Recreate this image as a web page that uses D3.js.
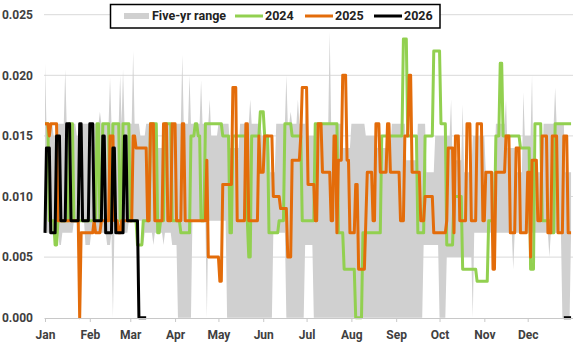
<!DOCTYPE html>
<html><head><meta charset="utf-8">
<script src="https://cdn.jsdelivr.net/npm/d3@7"></script>
<style>body{margin:0;background:#fff}svg{display:block;font-family:Roboto,Arial,sans-serif;font-weight:bold}</style>
</head><body><svg id="c" width="584" height="353"></svg>
<script>
// values in thousandths; [startDay, value] step breakpoints (day 0 = Jan 1)
const months = ["Jan","Feb","Mar","Apr","May","Jun","Jul","Aug","Sep","Oct","Nov","Dec"];
const monthStartDays = [0,31,59,90,120,151,181,212,243,273,304,334];
const yTicks = [0,0.005,0.010,0.015,0.020,0.025];
const legendLabels = ["Five-yr range","2024","2025","2026"];

const range5Max = [[0,21],[1,16],[6,15],[9,16],[14,20.5],[15,16],[22,15],[26,16],[38,17],[39,16],[45,19.8],[46,16],[52,20],[53,16],[54,20.5],[55,16],[61,22],[62,16],[66,15],[70,16],[78,14],[82,16],[95,21.7],[96,16],[100,20],[101,16],[108,19.6],[109,16],[114,18],[115,15],[120,16],[128,14],[135,16],[142,18],[143,16],[150,15],[156,12],[160,16],[167,20],[168,16],[170,17],[171,16],[175,18],[176,16],[181,18],[182,15],[188,16],[197,23.6],[198,16],[206,14],[212,16],[222,15],[230,14],[240,16],[250,13],[258,16],[264,12],[270,15],[281,18],[282,13],[289,17.6],[290,12],[296,15],[305,12],[312,16],[319,18],[320,14],[326,12],[331,18.6],[332,15],[337,20],[338,12],[345,16],[353,19],[354,16],[360,12]];
const range5Min = [[0,7],[10,6],[12,7],[20,8],[28,6],[32,7],[43,6],[46,7],[47,0],[48,7],[58,8],[68,6],[69,7],[75,6],[76,7],[82,6],[83,7],[88,6],[92,0],[102,8],[112,0],[113,8],[126,0],[158,7],[167,0],[180,6],[186,0],[262,6],[273,0],[278,5],[296,0],[297,7],[324,4],[325,7],[349,5],[350,7],[358,0],[364,7]];
const y2024 = [[0,16],[3,8],[7,6],[9,8],[17,16],[20,8],[36,16],[38,8],[40,16],[45,8],[47,16],[52,8],[54,16],[59,8],[64,6],[68,8],[73,16],[78,7],[80,8],[83,16],[88,8],[94,7],[101,15],[104,16],[106,15],[108,8],[111,16],[123,15],[128,7],[130,15],[140,8],[141,5],[143,15],[149,17],[152,15],[155,7],[162,8],[166,16],[171,15],[178,8],[187,16],[203,7],[207,4],[215,0],[220,7],[233,15],[248,23],[251,15],[258,7],[263,15],[269,22],[274,16],[278,6],[283,10],[289,4],[299,3],[307,8],[312,15],[315,21],[317,15],[329,14],[336,4],[339,16],[344,8],[350,7],[353,16]];
const y2025 = [[0,16],[3,15],[4,16],[9,8],[24,0],[25,7],[34,8],[35,7],[39,8],[45,15],[48,8],[51,7],[53,8],[61,15],[63,14],[71,8],[73,16],[76,8],[82,16],[85,8],[88,16],[91,8],[95,16],[97,8],[112,13],[113,5],[121,3],[123,11],[130,19],[133,8],[139,16],[141,8],[148,15],[149,12],[152,15],[158,10],[163,9],[168,5],[171,13],[177,15],[178,19],[182,11],[187,8],[189,16],[192,12],[198,8],[200,15],[202,7],[203,13],[206,20],[209,13],[211,7],[215,11],[217,4],[222,8],[223,12],[227,8],[229,16],[232,12],[237,16],[239,12],[246,8],[249,15],[252,20],[254,12],[260,8],[263,10],[269,7],[278,8],[279,14],[283,7],[284,15],[287,8],[292,16],[295,8],[299,16],[303,8],[305,12],[310,4],[312,12],[319,15],[322,7],[326,14],[329,7],[334,12],[336,5],[337,13],[341,8],[344,15],[348,7],[351,15],[355,7],[359,15],[362,7]];
const y2026 = [[0,7],[1,14],[4,7],[8,15],[11,8],[15,16],[18,8],[24,16],[26,8],[31,16],[34,8],[40,15],[42,7],[47,14],[49,7],[55,15],[57,8],[65,0]];
const y2026End = 70;
const y2026Tail = [[359,0]];

function expand(bp, last){
  const out=[]; let j=0;
  for(let d=0; d<=last; d++){
    while(j+1<bp.length && bp[j+1][0]<=d) j++;
    out.push({d, v: bp[j][1]/1000});
  }
  return out;
}
function expandFrom(bp, first, last){
  return expand(bp.map(p=>[p[0]-first,p[1]]), last-first).map(o=>({d:o.d+first, v:o.v}));
}

const svg = d3.select("#c");
const x = d3.scaleLinear().domain([0,365]).range([45,572.5]);
const y = d3.scaleLinear().domain([0,0.025]).range([317.7,14.7]);

svg.append("g").selectAll("line").data(yTicks.slice(1)).join("line")
  .attr("x1",44).attr("x2",573).attr("y1",d=>y(d)).attr("y2",d=>y(d))
  .attr("stroke","#d9d9d9").attr("stroke-width",1);

svg.append("g").selectAll("text").data(yTicks).join("text")
  .attr("x",33).attr("y",d=>y(d)).attr("dy","0.35em").attr("text-anchor","end")
  .attr("font-size",12).attr("fill","#404040").text(d=>d3.format(".3f")(d));

const mx = expand(range5Max,364), mn = expand(range5Min,364);
const rng = mx.map((o,i)=>({d:o.d, hi:o.v, lo:Math.min(o.v,mn[i].v)}));
svg.append("path").datum(rng)
  .attr("d", d3.area().x(d=>x(d.d)).y0(d=>y(d.lo)).y1(d=>y(d.hi)))
  .attr("fill","#d0d0d0");

const line = d3.line().x(d=>x(d.d)).y(d=>y(d.v));
function drawLine(data,color){
  svg.append("path").datum(data).attr("d",line).attr("fill","none")
    .attr("stroke",color).attr("stroke-width",3).attr("stroke-linejoin","round");
}
drawLine(expand(y2024,364),"#92d050");
drawLine(expand(y2025,364),"#e36c0a");
drawLine(expand(y2026,y2026End),"#000");
drawLine(expandFrom(y2026Tail,359,364),"#000");

const ax = svg.append("g").attr("transform","translate(0,318)")
  .call(d3.axisBottom(x).tickValues(monthStartDays).tickSize(4).tickFormat((d,i)=>months[i]));
ax.select(".domain").attr("stroke","#c8c8c8").attr("d","M44.5,0.5H573");
ax.selectAll(".tick line").attr("stroke","#c8c8c8");
ax.selectAll(".tick text").attr("font-size",12).attr("font-family","Roboto,Arial,sans-serif")
  .attr("font-weight","bold").attr("fill","#404040").attr("dy","1.2em");

const lg = svg.append("g");
lg.append("rect").attr("x",110.5).attr("y",4.5).attr("width",329.5).attr("height",23.5)
  .attr("fill","#fff").attr("stroke","#000").attr("stroke-width",1.5);
lg.append("rect").attr("x",124).attr("y",13).attr("width",25).attr("height",6).attr("fill","#d0d0d0");
const items=[{x1:235,x2:263,c:"#92d050"},{x1:305,x2:333,c:"#e36c0a"},{x1:374,x2:402,c:"#000"}];
items.forEach(it=>lg.append("line").attr("x1",it.x1).attr("x2",it.x2).attr("y1",16).attr("y2",16)
  .attr("stroke",it.c).attr("stroke-width",3));
const tx=[152,265,335,404];
legendLabels.forEach((t,i)=>lg.append("text").attr("x",tx[i]).attr("y",16).attr("dy","0.35em")
  .attr("font-size",12.5).attr("fill","#222").text(t));
</script></body></html>
